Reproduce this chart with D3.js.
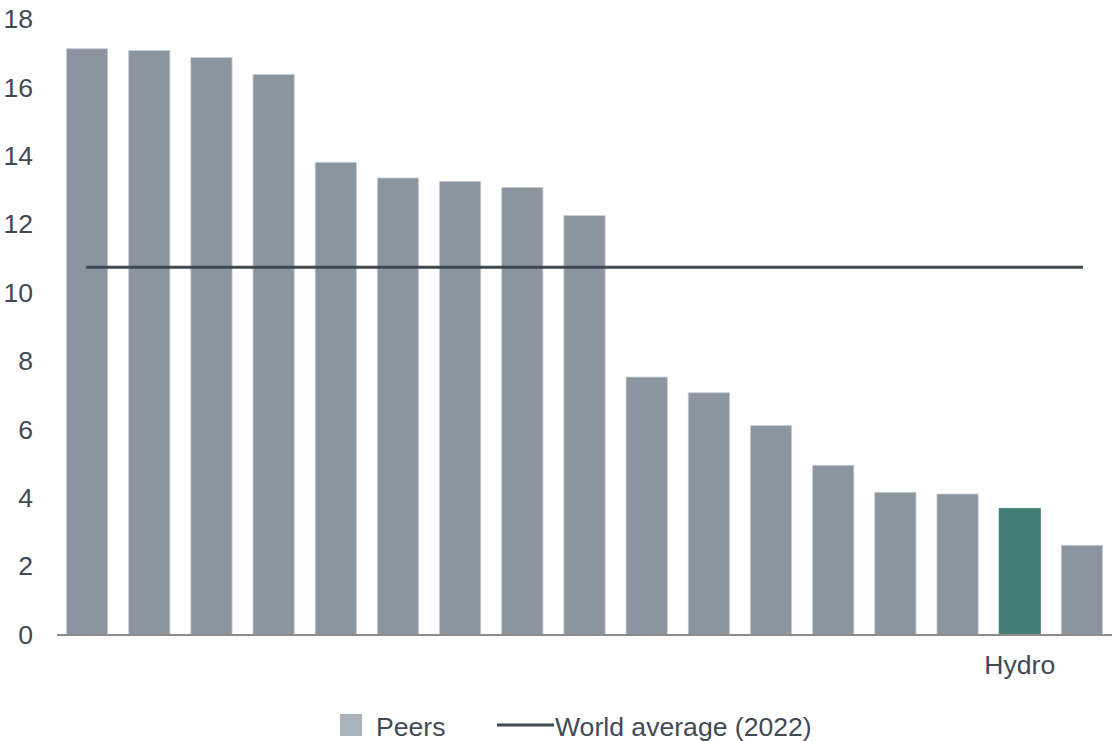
<!DOCTYPE html>
<html>
<head>
<meta charset="utf-8">
<script src="https://cdn.jsdelivr.net/npm/d3@7"></script>
<style>
  html, body { margin: 0; padding: 0; background: #fff; }
  svg { display: block; }
  text { font-family: "Liberation Sans", Arial, sans-serif; fill: #3f4a55; }
</style>
</head>
<body>
<svg id="chart" width="1112" height="741"></svg>
<script>
// Data
const categories = ["P1","P2","P3","P4","P5","P6","P7","P8","P9","P10","P11","P12","P13","P14","P15","Hydro","P17"];
const categoryLabels = ["","","","","","","","","","","","","","","","Hydro",""];
const values = [17.14, 17.09, 16.88, 16.39, 13.82, 13.36, 13.26, 13.08, 12.26, 7.54, 7.08, 6.12, 4.96, 4.17, 4.12, 3.70, 2.62];
const highlight = ["Hydro"];
const worldAverage = 10.74;
const yTicks = [0, 2, 4, 6, 8, 10, 12, 14, 16, 18];
const legendLabels = ["Peers", "World average (2022)"];

const FS = 26.6;
const svg = d3.select("#chart");

const x = d3.scaleBand()
  .domain(categories)
  .range([56, 1113])
  .paddingInner(0.324)
  .paddingOuter(0.162);

const y = d3.scaleLinear()
  .domain([0, 18])
  .range([634.5, 18.9]);

// Y axis labels (no line, no ticks)
const yAxis = d3.axisLeft(y).tickValues(yTicks).tickSize(0).tickPadding(0).tickFormat(d3.format("d"));
const gy = svg.append("g").attr("transform", "translate(33,0)").call(yAxis);
gy.select(".domain").remove();
gy.selectAll("text")
  .attr("font-size", FS)
  .attr("font-family", "Liberation Sans, Arial, sans-serif")
  .style("fill", "#3f4a55")
  .attr("dy", "0.33em");

// Bars
svg.append("g").selectAll("rect")
  .data(categories)
  .join("rect")
  .attr("x", d => x(d) + 0.4)
  .attr("width", x.bandwidth() - 0.8)
  .attr("y", (d, i) => y(values[i]) + 0.4)
  .attr("height", (d, i) => y(0) - y(values[i]) - 0.4)
  .attr("fill", d => highlight.includes(d) ? "#427e75" : "#8a95a0")
  .attr("stroke", d => highlight.includes(d) ? "#427e75" : "#c8ced4")
  .attr("stroke-width", 0.8);

// Baseline
svg.append("line")
  .attr("x1", 57).attr("x2", 1112)
  .attr("y1", y(0) + 0.5).attr("y2", y(0) + 0.5)
  .attr("stroke", "#8c8c8c")
  .attr("stroke-width", 2);

// X labels
const xAxis = d3.axisBottom(x).tickSize(0).tickPadding(0).tickFormat((d, i) => categoryLabels[i]);
const gx = svg.append("g").attr("transform", `translate(0,${y(0)})`).call(xAxis);
gx.select(".domain").remove();
gx.selectAll("text")
  .attr("font-size", FS)
  .attr("font-family", "Liberation Sans, Arial, sans-serif")
  .style("fill", "#3f4a55")
  .attr("y", 39.5)
  .attr("dy", 0);

// World average line
const first = categories[0], last = categories[categories.length - 1];
svg.append("line")
  .attr("x1", x(first) + x.bandwidth() / 2 - 1)
  .attr("x2", x(last) + x.bandwidth() / 2 + 1)
  .attr("y1", y(worldAverage)).attr("y2", y(worldAverage))
  .attr("stroke", "#3e4951")
  .attr("stroke-width", 3);

// Legend
const lg = svg.append("g");
lg.append("rect")
  .attr("x", 340).attr("y", 714).attr("width", 22).attr("height", 22)
  .attr("fill", "#aab3bb");
lg.append("text")
  .attr("x", 376).attr("y", 736)
  .attr("font-size", FS)
  .text(legendLabels[0]);
lg.append("line")
  .attr("x1", 497).attr("x2", 554)
  .attr("y1", 725).attr("y2", 725)
  .attr("stroke", "#3e4951").attr("stroke-width", 3);
lg.append("text")
  .attr("x", 555).attr("y", 736)
  .attr("font-size", FS)
  .text(legendLabels[1]);
</script>
</body>
</html>
